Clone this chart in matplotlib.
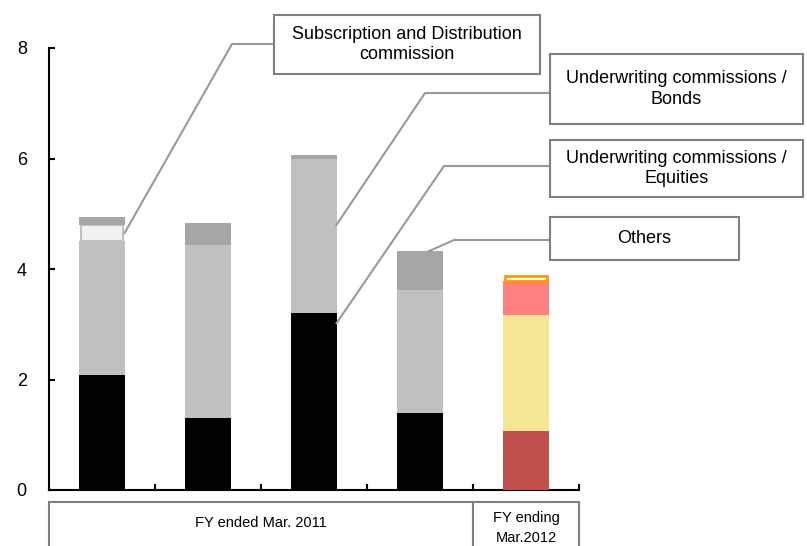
import matplotlib.pyplot as plt
from matplotlib.patches import Rectangle
from matplotlib.lines import Line2D

plt.rcParams['font.family'] = ['Liberation Sans', 'DejaVu Sans']

# commission segments per period (stacked bottom to top)
periods = ['', '', '', '', '']
equities = [2.08, 1.30, 3.21, 1.40, 1.07]
bonds = [2.42, 3.13, 2.78, 2.22, 2.09]
subscription = [0.30, 0.0, 0.0, 0.0, 0.62]
others = [0.14, 0.41, 0.07, 0.70, 0.11]

group_labels = ['FY ended Mar. 2011', 'FY ending\nMar.2012']
group_sizes = [4, 1]

box_labels = ['Subscription and Distribution\ncommission',
              'Underwriting commissions /\nBonds',
              'Underwriting commissions /\nEquities',
              'Others']

W, H = 807, 546
fig = plt.figure(figsize=(W / 100, H / 100), dpi=100)
ax = fig.add_axes([49 / W, (H - 490) / H, 530 / W, 442 / H])

x = list(range(len(periods)))
bw = 0.425

# FY2011 bars in greys, FY2012 bar in colour
c_eq = ['#000000'] * 4 + ['#c0504d']
c_bd = ['#c0c0c0'] * 4 + ['#f5e695']
c_sd = ['#f2f2f2'] * 4 + ['#ff8080']
c_ot = ['#a6a6a6'] * 4 + ['#ffffff']

base2 = [a + b for a, b in zip(equities, bonds)]
base3 = [a + b for a, b in zip(base2, subscription)]

ax.bar(x, equities, bw, color=c_eq, zorder=3)
ax.bar(x, bonds, bw, bottom=equities, color=c_bd, zorder=3)
for i in x:
    if subscription[i] <= 0:
        continue
    if i < 4:
        ax.bar(i, subscription[i], bw * 0.93, bottom=base2[i], color=c_sd[i],
               edgecolor='#c0c0c0', linewidth=1.5, zorder=3)
    else:
        ax.bar(i, subscription[i], bw, bottom=base2[i], color=c_sd[i], zorder=3)
for i in x:
    if i < 4:
        ax.bar(i, others[i], bw, bottom=base3[i], color=c_ot[i], zorder=3)
    else:
        ax.bar(i, others[i] - 0.02, bw * 0.95, bottom=base3[i] + 0.01,
               color=c_ot[i], edgecolor='#ff9900', linewidth=2, zorder=3)

ax.set_xlim(-0.5, len(periods) - 0.5)
ax.set_ylim(0, 8)
ax.set_yticks([0, 2, 4, 6, 8])
ax.set_xticks([i + 0.5 for i in x])
ax.set_xticklabels([])
for s in ['top', 'right']:
    ax.spines[s].set_visible(False)
for s in ['left', 'bottom']:
    ax.spines[s].set_linewidth(1.5)
ax.tick_params(axis='y', direction='in', length=4, width=1.5, pad=16, labelsize=13)
ax.tick_params(axis='x', direction='in', length=4, width=1.5)

# period table under the axis
tab_top = (H - 502) / H
edge = '#808080'
x0 = 49
for lab, n in zip(group_labels, group_sizes):
    wpx = 106 * n
    fig.add_artist(Rectangle((x0 / W, -0.05), wpx / W, tab_top + 0.05,
                             transform=fig.transFigure, fill=False,
                             edgecolor=edge, linewidth=1.5))
    fig.text((x0 + wpx / 2) / W, (H - 528 if n == 1 else H - 523) / H, lab,
             ha='center', va='center', fontsize=10.5, linespacing=1.5)
    x0 += wpx

# callout boxes with elbow leader lines
boxes = [(274, 15, 540, 74), (550, 54, 803, 124),
         (550, 140, 803, 197), (550, 217, 739, 260)]
elbows = [(232, 44), (425, 93), (444, 166), (454, 240)]
targets = [(0 + bw / 2, base2[0] + subscription[0] / 2),
           (2 + bw / 2, 4.8),
           (2 + bw / 2, 3.02),
           (3 + 0.08, base3[3] + others[3])]

to_fig = fig.transFigure.inverted()
for (l, t, r, b), lab, (ex, ey), (tx, ty) in zip(boxes, box_labels, elbows, targets):
    fig.add_artist(Rectangle((l / W, (H - b) / H), (r - l) / W, (b - t) / H,
                             transform=fig.transFigure, facecolor='white',
                             edgecolor=edge, linewidth=1.5, zorder=5))
    fig.text((l + r) / 2 / W, (H - (t + b) / 2) / H, lab, ha='center',
             va='center', fontsize=13, linespacing=1.25, zorder=6)
    px, py = to_fig.transform(ax.transData.transform((tx, ty)))
    fig.add_artist(Line2D([px, ex / W, l / W], [py, (H - ey) / H, (H - ey) / H],
                          transform=fig.transFigure, color='#999999',
                          linewidth=1.5, zorder=4))

plt.savefig('out.png', dpi=100)
